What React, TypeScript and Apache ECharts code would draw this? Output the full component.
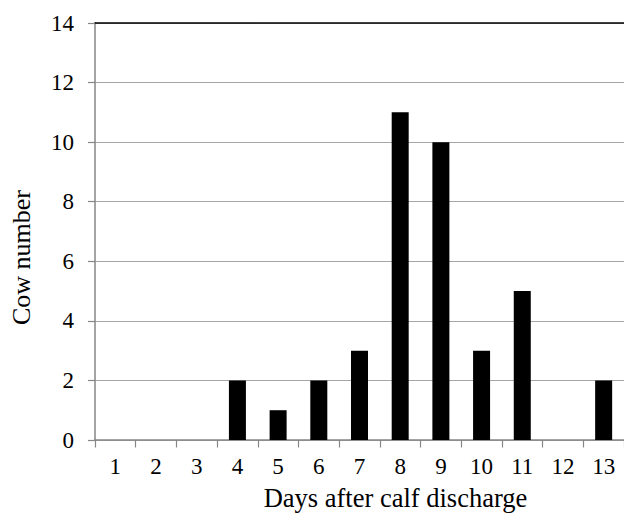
import React, { useEffect, useRef } from "react";
import * as echarts from "echarts";

const categories = ["1", "2", "3", "4", "5", "6", "7", "8", "9", "10", "11", "12", "13"];
const cowNumbers = [0, 0, 0, 2, 1, 2, 3, 11, 10, 3, 5, 0, 2];
const yMin = 0;
const yMax = 14;
const yInterval = 2;
const xTitle = "Days after calf discharge";
const yTitle = "Cow number";

const FONT = "Liberation Serif, Times New Roman, serif";
const AXIS_GRAY = "#868686";
const GRID_GRAY = "#a6a6a6";

export default function App() {
  const ref = useRef<HTMLDivElement>(null);
  useEffect(() => {
    if (!ref.current) return;
    const chart = echarts.init(ref.current, undefined, { renderer: "svg" });
    chart.setOption({
      animation: false,
      backgroundColor: "#ffffff",
      textStyle: { fontFamily: FONT, color: "#000" },
      grid: { left: 94, top: 23, width: 533.6, height: 420, containLabel: false },
      xAxis: [
        {
          type: "category",
          data: categories,
          boundaryGap: true,
          position: "bottom",
          axisLine: { show: true, lineStyle: { color: AXIS_GRAY, width: 1.5 } },
          axisTick: { show: true, length: 7.5, inside: false, alignWithLabel: false, lineStyle: { color: AXIS_GRAY, width: 1.2 } },
          axisLabel: { color: "#000", fontFamily: FONT, fontSize: 23, margin: 15 },
          splitLine: { show: false },
          name: xTitle,
          nameLocation: "middle",
          nameGap: 44,
          nameTextStyle: { color: "#000", fontFamily: FONT, fontSize: 26.5, padding: [0, 0, 0, 72] },
        },
        {
          type: "category",
          data: categories,
          position: "top",
          axisLine: { show: true, lineStyle: { color: "#000", width: 1.5 } },
          axisTick: { show: false },
          axisLabel: { show: false },
          splitLine: { show: false },
        },
      ],
      yAxis: {
        type: "value",
        min: yMin,
        max: yMax,
        interval: yInterval,
        axisLine: { show: true, lineStyle: { color: AXIS_GRAY, width: 1.5 } },
        axisTick: { show: true, length: 7, inside: false, lineStyle: { color: AXIS_GRAY, width: 1.2 } },
        axisLabel: { color: "#000", fontFamily: FONT, fontSize: 23, margin: 21 },
        splitLine: { show: true, lineStyle: { color: GRID_GRAY, width: 1.2 } },
        name: yTitle,
        nameLocation: "middle",
        nameRotate: 90,
        nameGap: 61,
        nameTextStyle: { color: "#000", fontFamily: FONT, fontSize: 26, padding: [0, 52, 0, 0] },
      },
      series: [
        {
          type: "bar",
          data: cowNumbers,
          xAxisIndex: 0,
          barWidth: 17,
          itemStyle: { color: "#000" },
        },
      ],
    });
    return () => chart.dispose();
  }, []);
  return (
    <div
      ref={ref}
      style={{ position: "absolute", left: 0, top: 0, width: 624, height: 516, background: "#fff" }}
    />
  );
}
